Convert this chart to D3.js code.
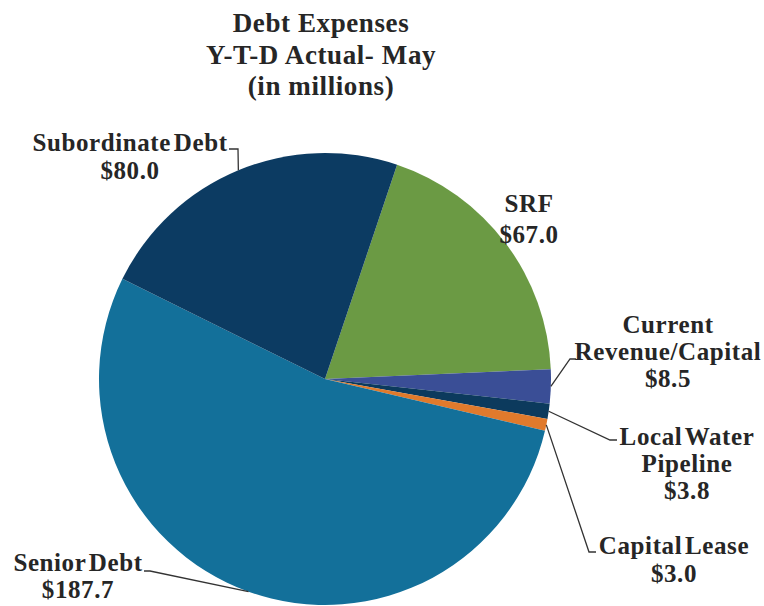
<!DOCTYPE html>
<html>
<head>
<meta charset="utf-8">
<script src="https://cdn.jsdelivr.net/npm/d3@7"></script>
<style>
  html, body { margin: 0; padding: 0; background: #ffffff; }
  svg text { font-family: "Liberation Serif", "Times New Roman", serif; font-weight: bold; fill: #262626; }
</style>
</head>
<body>
<svg id="chart" width="764" height="606"></svg>
<script>
// ---- data ----
const categories = ["SRF", "Current Revenue/Capital", "Local Water Pipeline", "Capital Lease", "Senior Debt", "Subordinate Debt"];
const values = [67.0, 8.5, 3.8, 3.0, 187.7, 80.0];
const colors = ["#6b9a44", "#3a4e96", "#0c3a5d", "#e07a2c", "#13709a", "#0c3b62"];
const labelLines = [
  ["SRF", "$67.0"],
  ["Current", "Revenue/Capital", "$8.5"],
  ["Local Water", "Pipeline", "$3.8"],
  ["Capital Lease", "$3.0"],
  ["Senior Debt", "$187.7"],
  ["Subordinate Debt", "$80.0"]
];
const titleLines = ["Debt Expenses", "Y-T-D Actual- May", "(in millions)"];

// ---- layout ----
const cx = 325, cy = 379, radius = 226;
const startAngle = 18.6 * Math.PI / 180;
const labelLayout = [
  { x: 529, y: 212, dy: 31, elbow: null },
  { x: 668, y: 333, dy: 27, elbow: [[570, 359], [576, 359]] },
  { x: 687, y: 445, dy: 27, elbow: [[610, 440], [617, 440]] },
  { x: 674, y: 554, dy: 28, elbow: [[589, 552], [596, 552]] },
  { x: 78,  y: 571, dy: 27, elbow: [[150, 571], [144, 571]] },
  { x: 130, y: 151, dy: 28, elbow: [[238, 149], [229, 149]] }
];

const svg = d3.select("#chart");

// title
svg.append("g").selectAll("text").data(titleLines).join("text")
  .attr("x", 321)
  .attr("y", (d, i) => 32 + i * 31.5)
  .attr("text-anchor", "middle")
  .style("font-size", "27px")
  .style("letter-spacing", "0.6px")
  .text(d => d);

const pie = d3.pie().sort(null).value(d => d)
  .startAngle(startAngle).endAngle(startAngle + 2 * Math.PI);
const arcs = pie(values);
const arc = d3.arc().innerRadius(0).outerRadius(radius);

const g = svg.append("g").attr("transform", `translate(${cx},${cy})`);
g.selectAll("path").data(arcs).join("path")
  .attr("d", arc)
  .attr("fill", (d, i) => colors[i]);

// leader lines
const lineGen = d3.line();
arcs.forEach((a, i) => {
  const lay = labelLayout[i];
  if (!lay.elbow) return;
  const mid = (a.startAngle + a.endAngle) / 2;
  const ex = cx + radius * Math.sin(mid);
  const ey = cy - radius * Math.cos(mid);
  const pts = [[ex, ey]].concat(lay.elbow);
  svg.append("path")
    .attr("d", lineGen(pts))
    .attr("fill", "none")
    .attr("stroke", "#333")
    .attr("stroke-width", 1.3);
});

// labels
labelLines.forEach((lines, i) => {
  const lay = labelLayout[i];
  svg.append("g").selectAll("text").data(lines).join("text")
    .attr("x", lay.x)
    .attr("y", (d, j) => lay.y + j * lay.dy)
    .attr("text-anchor", "middle")
    .style("font-size", "25px")
    .style("letter-spacing", "0.6px")
    .style("word-spacing", "-4px")
    .text(d => d);
});
</script>
</body>
</html>
